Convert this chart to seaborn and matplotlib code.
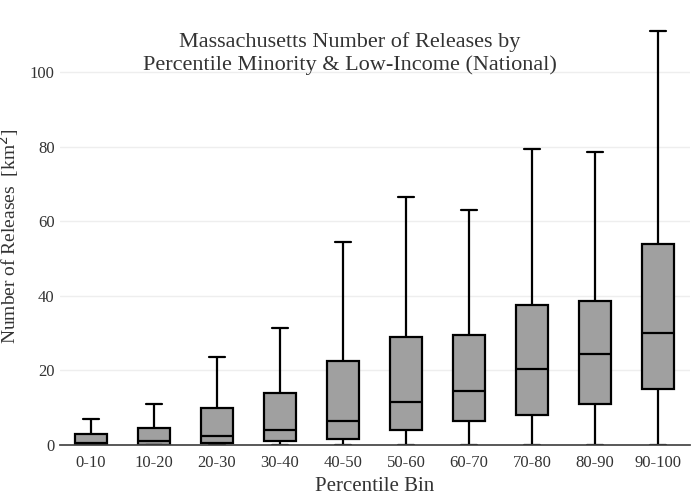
import pandas as pd
import numpy as np
import matplotlib.pyplot as plt
import seaborn as sns

bins = ['0-10', '10-20', '20-30', '30-40', '40-50', '50-60', '60-70', '70-80', '80-90', '90-100']
mins = [0, 0, 0, 0, 0, 0, 0, 0, 0, 0]
q1s = [0, 0, 0.5, 1, 1.5, 4, 6.5, 8, 11, 15]
medians = [0.5, 1, 2.5, 4, 6.5, 11.5, 14.5, 20.5, 24.5, 30]
q3s = [3, 4.5, 10, 14, 22.5, 29, 29.5, 37.5, 38.5, 54]
maxs = [7, 11, 23.5, 31.5, 54.5, 66.5, 63, 79.5, 78.5, 111]

# five summary points per bin reproduce the box statistics exactly
rows = []
for b, a, q1, m, q3, z in zip(bins, mins, q1s, medians, q3s, maxs):
    for v in (a, q1, m, q3, z):
        rows.append({'bin': b, 'val': v})
df = pd.DataFrame(rows)

sns.set_theme(style='white')
plt.rcParams['font.family'] = ['Liberation Serif', 'DejaVu Serif']

fig, ax = plt.subplots(figsize=(7, 5), dpi=100)
fig.subplots_adjust(left=0.085, right=0.985, top=0.945, bottom=0.11)

line = dict(color='black', linewidth=1.6)
sns.boxplot(data=df, x='bin', y='val', order=bins, whis=np.inf, width=0.5,
            color='#a0a0a0', saturation=1, ax=ax,
            boxprops=dict(facecolor='#a0a0a0', edgecolor='black', linewidth=1.6),
            whiskerprops=line, capprops=line, medianprops=line, capwidths=0.25)

ax.set_ylim(0, 112)
ax.set_yticks([0, 20, 40, 60, 80, 100])
ax.yaxis.grid(True, color='#eeeeee', linewidth=1)
ax.set_axisbelow(True)
for s in ['top', 'right', 'left']:
    ax.spines[s].set_visible(False)
ax.spines['bottom'].set_color('#444444')
ax.tick_params(axis='both', labelsize=12, colors='#333333', length=0)
ax.tick_params(axis='x', length=4, color='#444444')
ax.set_xlabel('Percentile Bin', fontsize=15, color='#333333')
ax.set_ylabel('Number of Releases  [km$^2$]', fontsize=14, color='#333333', labelpad=6)
fig.text(0.5, 0.935, 'Massachusetts Number of Releases by\nPercentile Minority & Low-Income (National)',
         ha='center', va='top', fontsize=16, color='#333333')

fig.savefig('out.png')
